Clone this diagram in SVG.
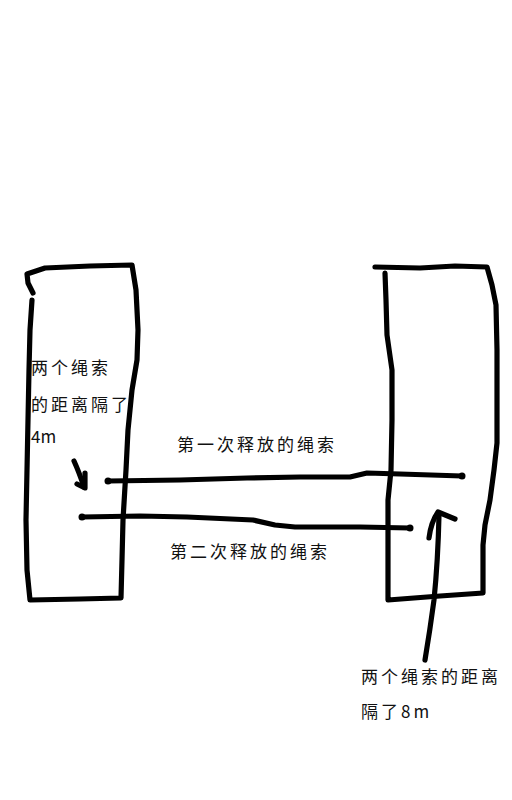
<svg xmlns="http://www.w3.org/2000/svg" width="512" height="800" viewBox="0 0 512 800">
<style>
.s{fill:none;stroke:#000;stroke-width:5.2;stroke-linecap:round;stroke-linejoin:round}
.t{font-family:"Noto Sans CJK SC","Liberation Serif",serif;font-size:17px;fill:#111;letter-spacing:3px}
</style>
<rect width="512" height="800" fill="#fff"/>
<g id="left-wall">
<path class="s" d="M33,293 L28,283 L27,274 L45,268 L90,266 L132,265 L136,290 L138,330 L137,360 L132,390 L128,430 L126,470 L123,520 L122,560 L121,598 L80,599 L30,600 L27,570 L26,520 L27,470 L28,420 L29,370 L30,330 L32,300"/>
</g>
<g id="right-wall">
<path class="s" d="M375,267 L420,268 L455,266 L487,267 L492,285 L496,305 L497,350 L497,400 L497,443 L494,470 L490,500 L485,525 L483,545 L483,593 L440,596 L388,600 L388,560 L388,500 L391,470 L392,420 L392,370 L387,335 L386,300 L385,273"/>
</g>
<g id="ropes">
<path class="s" d="M108,481 L180,480 L247,478 L300,477 L350,477 L367,473 L400,474 L462,476"/>
<circle cx="108" cy="481" r="3.5"/>
<circle cx="462" cy="476" r="3.5"/>
<path class="s" d="M82,517 L140,516 L187,517 L253,520 L275,525 L295,527 L360,527 L410,528"/>
<circle cx="82" cy="517" r="3.5"/>
<circle cx="410" cy="528" r="3.5"/>
</g>
<g id="arrows">
<path class="s" d="M74,461 Q79,472 84,487"/>
<path class="s" d="M85,473 L85,488 L77,484"/>
<path class="s" d="M425,660 Q430,630 434,600 Q438,560 439,515"/>
<path class="s" d="M429,538 Q431,522 438,512 L455,519"/>
</g>
<g id="labels">
<text class="t" x="177" y="451">第一次释放的绳索</text>
<text class="t" x="170" y="558">第二次释放的绳索</text>
<text class="t" x="31" y="374">两个绳索</text>
<text class="t" x="31" y="411">的距离隔了</text>
<text class="t" x="31" y="443" style="letter-spacing:0">4m</text>
<text class="t" x="361" y="683">两个绳索的距离</text>
<text class="t" x="361" y="718">隔了8m</text>
</g>
</svg>
